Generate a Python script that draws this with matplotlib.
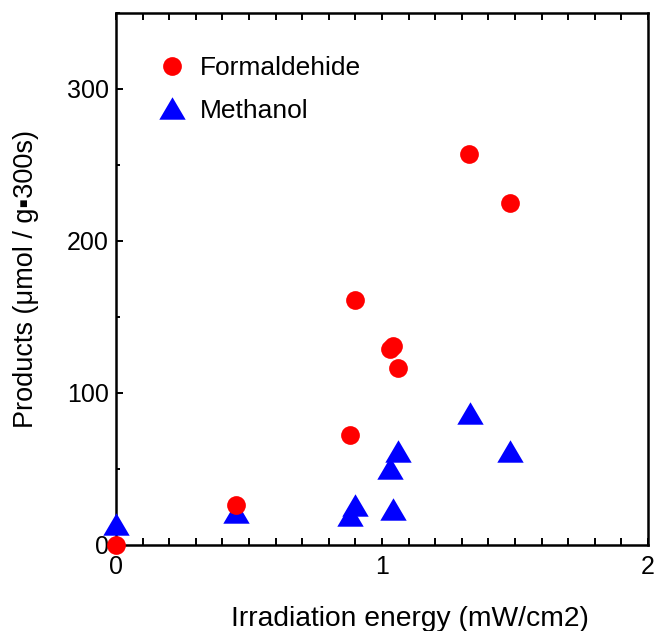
import matplotlib.pyplot as plt
from matplotlib.ticker import MultipleLocator

# values
form_x = [0.0, 0.451, 0.88, 0.898, 1.03, 1.041, 1.06, 1.327, 1.481]
form_y = [0.0, 26.3, 72.4, 161.0, 129.0, 131.0, 116.4, 257.0, 225.0]

meth_x = [0.0, 0.451, 0.88, 0.898, 1.03, 1.04, 1.059, 1.33, 1.481]
meth_y = [13.8, 22.0, 20.0, 26.0, 50.6, 24.0, 62.0, 86.6, 62.0]

plt.rcParams['font.family'] = ['Liberation Sans', 'DejaVu Sans']

fig = plt.figure(figsize=(6.55, 6.31), dpi=100)
ax = fig.add_axes([116 / 655, 86 / 631, 532 / 655, 532 / 631])

tri = [(-1, -0.85), (1, -0.85), (0, 0.85)]
ax.plot(meth_x, meth_y, linestyle='none', marker=tri, markersize=19,
        color='#0000ff', markeredgewidth=0, clip_on=False, zorder=3,
        label='Methanol')
ax.plot(form_x, form_y, linestyle='none', marker='o', markersize=13.5,
        color='#ff0000', markeredgewidth=0, clip_on=False, zorder=4,
        label='Formaldehide')

ax.set_xlim(0, 2)
ax.set_ylim(0, 350)
ax.xaxis.set_major_locator(MultipleLocator(1))
ax.xaxis.set_minor_locator(MultipleLocator(0.1))
ax.yaxis.set_major_locator(MultipleLocator(100))
ax.yaxis.set_minor_locator(MultipleLocator(50))

for s in ax.spines.values():
    s.set_linewidth(1.8)

ax.tick_params(axis='x', which='both', direction='in', top=True,
               length=5, width=1.4, labelsize=18, pad=7)
ax.tick_params(axis='y', which='major', direction='in', length=5,
               width=1.4, labelsize=18, pad=5)
ax.tick_params(axis='y', which='minor', direction='in', length=3, width=1.4)

ax.set_xlabel('Irradiation energy (mW/cm2)', fontsize=20.3, labelpad=20,
              x=0.553)
ax.set_ylabel('Products (μmol / g▪300s)', fontsize=19.5, labelpad=20)

h, l = ax.get_legend_handles_labels()
ax.legend(h[::-1], l[::-1], loc='upper left', bbox_to_anchor=(0.082, 0.919),
          frameon=False, fontsize=19, borderpad=0, borderaxespad=0,
          handlelength=0.97, handletextpad=0.56, labelspacing=0.7,
          numpoints=1)

fig.savefig('out.png', dpi=100)
